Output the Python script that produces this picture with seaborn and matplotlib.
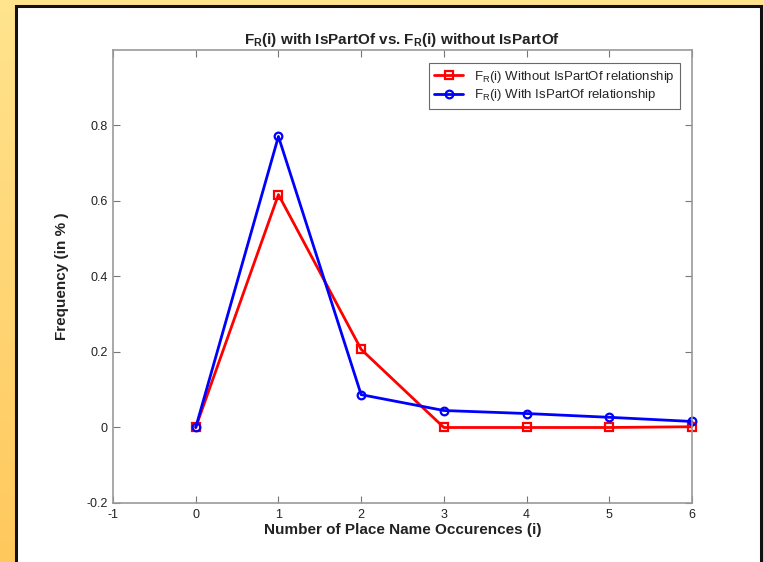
import numpy as np
import pandas as pd
import matplotlib
matplotlib.use("Agg")
import matplotlib.pyplot as plt
import seaborn as sns
from matplotlib.patches import Rectangle
from matplotlib.colors import LinearSegmentedColormap

occurrences = [0, 1, 2, 3, 4, 5, 6]
without_ispartof = [0.0, 0.617, 0.207, 0.0, 0.0, 0.0, 0.002]
with_ispartof = [0.0, 0.771, 0.087, 0.045, 0.037, 0.027, 0.016]
series_names = [r"F$_\mathregular{R}$(i) Without IsPartOf relationship",
                r"F$_\mathregular{R}$(i) With IsPartOf relationship"]
x_ticks = [-1, 0, 1, 2, 3, 4, 5, 6]
y_ticks = [-0.2, 0, 0.2, 0.4, 0.6, 0.8]

sns.set_theme(style="white")
plt.rcParams['font.family'] = ['Liberation Sans', 'DejaVu Sans']
plt.rcParams['mathtext.fontset'] = 'custom'
plt.rcParams['mathtext.rm'] = 'Liberation Sans'
plt.rcParams['mathtext.bf'] = 'Liberation Sans:bold'

df_without = pd.DataFrame({"i": occurrences, "freq": without_ispartof})
df_with = pd.DataFrame({"i": occurrences, "freq": with_ispartof})

fig = plt.figure(figsize=(7.64, 5.62), dpi=100)

# background gradient
bg = fig.add_axes([0, 0, 1, 1], zorder=-10)
grad = np.linspace(0, 1, 256).reshape(-1, 1)
cmap = LinearSegmentedColormap.from_list("g", ["#FFE48E", "#FFC85C"])
bg.imshow(grad, aspect="auto", cmap=cmap, extent=[0, 1, 0, 1], origin="upper")
bg.set_axis_off()
bg.add_patch(Rectangle((16 / 764, -0.01), (761 - 16) / 764, 1 - 6 / 562 + 0.01,
                       transform=bg.transAxes, facecolor="white", edgecolor="#111111",
                       linewidth=2.2, zorder=2))

ax = fig.add_axes([113 / 764, 1 - 503 / 562, (692 - 113) / 764, (503 - 50) / 562])
ax.set_facecolor("white")

for d, c, m, lab in [(df_without, "#FF0000", "s", series_names[0]),
                     (df_with, "#0000FF", "o", series_names[1])]:
    sns.lineplot(data=d, x="i", y="freq", color=c, marker=m, linewidth=2,
                 markersize=5.5, markerfacecolor="none", markeredgecolor=c,
                 markeredgewidth=1.6, label=lab, ax=ax, clip_on=False)

ax.set_xlim(-1, 6)
ax.set_ylim(-0.2, 1.0)
ax.set_xticks(x_ticks)
ax.set_xticklabels([str(t) for t in x_ticks])
ax.set_yticks(y_ticks)
ax.set_yticklabels(["-0.2", "0", "0.2", "0.4", "0.6", "0.8"])
ax.tick_params(direction="in", length=5, width=0.8, color="#777777", labelsize=9,
               labelcolor="#222222", top=True, right=True, bottom=True, left=True, pad=4)
for s in ax.spines.values():
    s.set_color("#999999")
    s.set_linewidth(1.2)

ax.set_xlabel("Number of Place Name Occurences (i)", fontsize=11, fontweight="bold",
              color="#222222", labelpad=2)
ax.set_ylabel("Frequency (in % )", fontsize=11, fontweight="bold", color="#222222", labelpad=12)
ax.set_title(r"F$_\mathbf{R}$(i) with IsPartOf vs. F$_\mathbf{R}$(i) without IsPartOf",
             fontsize=11, fontweight="bold", color="#222222", pad=4)

leg = ax.legend(loc="upper right", fontsize=9.5, frameon=True, fancybox=False,
                handlelength=2.2, borderpad=0.4, labelspacing=0.2,
                bbox_to_anchor=(0.99, 0.985))
leg.get_frame().set_edgecolor("#444444")
leg.get_frame().set_linewidth(0.8)

fig.savefig("out.png", dpi=100)
